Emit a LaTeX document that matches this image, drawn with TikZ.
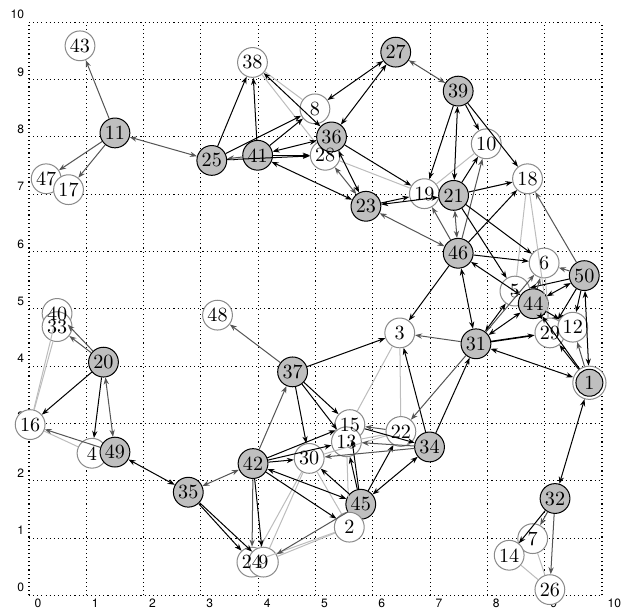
\documentclass[tikz,border=0pt]{standalone}
\usepackage{fontspec}
\usepackage{tikz}
\usetikzlibrary{arrows.meta}
\newfontfamily\axisfont{TeX Gyre Heros}
\definecolor{NodeGrey}{HTML}{BFBFBF}
\definecolor{RingGrey}{HTML}{8A8A8A}
\definecolor{EdgeGrey}{HTML}{555555}
\definecolor{FaintGrey}{HTML}{BDBDBD}
\tikzset{
    % Node styles - all circles, numbers set afterwards
    agent/.style={
        circle,
        draw=black,
        fill=NodeGrey,
        line width=0.5pt,
        minimum size=0.52cm,
        inner sep=0pt
    },
    target/.style={
        circle,
        draw=RingGrey,
        fill=white,
        line width=0.5pt,
        minimum size=0.52cm,
        inner sep=0pt
    },
    goalring/.style={
        circle,
        draw=RingGrey,
        fill=white,
        line width=0.5pt,
        minimum size=0.58cm,
        inner sep=0pt
    },
    number/.style={
        inner sep=0pt
    },
    axislabel/.style={
        inner sep=0pt,
        font=\axisfont\fontsize{6}{7}\selectfont
    },
    % Arrow styles - straight lines only
    arrow/.style={
        -{Stealth[length=3.5pt,width=2.6pt]},
        line width=0.5pt,
        draw=black
    },
    twoarrow/.style={
        {Stealth[length=3.5pt,width=2.6pt]}-{Stealth[length=3.5pt,width=2.6pt]},
        line width=0.5pt,
        draw=black
    },
    greyarrow/.style={
        -{Stealth[length=3.5pt,width=2.6pt]},
        line width=0.5pt,
        draw=EdgeGrey
    },
    greytwoarrow/.style={
        {Stealth[length=3.5pt,width=2.6pt]}-{Stealth[length=3.5pt,width=2.6pt]},
        line width=0.5pt,
        draw=EdgeGrey
    },
    faintlink/.style={
        line width=0.5pt,
        draw=FaintGrey
    }
}
\begin{document}
\begin{tikzpicture}
    \useasboundingbox (-0.506,-0.21) rectangle (10.663,10.39);
    \draw[line width=0.55pt, dash pattern=on 0.55pt off 1.5pt] (0,0) grid (10,10);
    \foreach \k in {0,...,10} {
        \node[axislabel, anchor=north west] (xl\k) at (\k+0.09,-0.05) {\k};
        \node[axislabel, anchor=south east] (yl\k) at (-0.08,\k+0.05) {\k};
    }

    \node[target] (n43) at (0.89,9.59) {};
    \node[agent] (n11) at (1.50,8.07) {};
    \node[target] (n47) at (0.30,7.27) {};
    \node[target] (n17) at (0.69,7.08) {};
    \node[target] (n38) at (3.90,9.30) {};
    \node[agent] (n25) at (3.19,7.59) {};
    \node[agent] (n41) at (3.99,7.68) {};
    \node[target] (n8) at (4.99,8.49) {};
    \node[target] (n28) at (5.17,7.68) {};
    \node[agent] (n36) at (5.28,8.00) {};
    \node[agent] (n27) at (6.40,9.48) {};
    \node[agent] (n23) at (5.88,6.79) {};
    \node[agent] (n39) at (7.49,8.80) {};
    \node[target] (n10) at (7.98,7.88) {};
    \node[target] (n18) at (8.70,7.27) {};
    \node[target] (n19) at (6.90,7.01) {};
    \node[agent] (n21) at (7.41,6.98) {};
    \node[agent] (n46) at (7.49,5.97) {};
    \node[target] (n6) at (8.99,5.80) {};
    \node[agent] (n50) at (9.69,5.58) {};
    \node[target] (n5) at (8.48,5.31) {};
    \node[agent] (n44) at (8.80,5.09) {};
    \node[target] (n29) at (9.09,4.58) {};
    \node[target] (n12) at (9.49,4.68) {};
    \node[agent] (n31) at (7.80,4.39) {};
    \node[goalring] (n1) at (9.78,3.71) {};
    \node[agent, minimum size=0.47cm] (n1c) at (n1) {};
    \node[target] (n3) at (6.47,4.58) {};
    \node[target] (n48) at (3.29,4.89) {};
    \node[agent] (n37) at (4.60,3.90) {};
    \node[target] (n40) at (0.49,4.92) {};
    \node[target] (n33) at (0.49,4.69) {};
    \node[agent] (n20) at (1.30,4.07) {};
    \node[target] (n16) at (0.02,2.98) {};
    \node[target] (n4) at (1.10,2.48) {};
    \node[agent] (n49) at (1.50,2.50) {};
    \node[agent] (n35) at (2.78,1.80) {};
    \node[agent] (n42) at (3.91,2.30) {};
    \node[target] (n30) at (4.89,2.39) {};
    \node[target] (n15) at (5.60,2.98) {};
    \node[target] (n13) at (5.54,2.68) {};
    \node[target] (n22) at (6.49,2.86) {};
    \node[agent] (n34) at (6.99,2.59) {};
    \node[agent] (n45) at (5.79,1.59) {};
    \node[target] (n2) at (5.59,1.19) {};
    \node[target] (n24) at (3.89,0.58) {};
    \node[target] (n9) at (4.09,0.58) {};
    \node[agent] (n32) at (9.18,1.69) {};
    \node[target] (n7) at (8.79,0.99) {};
    \node[target] (n14) at (8.38,0.70) {};
    \node[target] (n26) at (9.09,0.10) {};

    % numbers go on top of all circles
    \foreach \k in {1,...,50}
        \node[number] (t\k) at (n\k) {\k};

    % light links
    \draw[faintlink] (n38) -- (n8);
    \draw[faintlink] (n38) -- (n28);
    \draw[faintlink] (n28) -- (n19);
    \draw[faintlink] (n19) -- (n10);
    \draw[faintlink] (n21) -- (n18);
    \draw[faintlink] (n18) -- (n5);
    \draw[faintlink] (n18) -- (n29);
    \draw[faintlink] (n6) -- (n29);
    \draw[faintlink] (n3) -- (n15);
    \draw[faintlink] (n3) -- (n22);
    \draw[faintlink] (n16) -- (n40);
    \draw[faintlink] (n16) -- (n33);
    \draw[faintlink] (n4) -- (n16);
    \draw[faintlink] (n2) -- (n24);
    \draw[faintlink] (n2) -- (n9);
    \draw[faintlink] (n30) -- (n24);
    \draw[faintlink] (n30) -- (n9);
    \draw[faintlink] (n30) -- (n2);
    \draw[faintlink] (n30) -- (n22);
    \draw[faintlink] (n13) -- (n2);
    \draw[faintlink] (n22) -- (n13);
    \draw[faintlink] (n7) -- (n26);
    \draw[faintlink] (n14) -- (n26);

    % upper left
    \draw[greyarrow] (n11) -- (n43);
    \draw[greyarrow] (n11) -- (n47);
    \draw[greyarrow] (n11) -- (n17);
    \draw[greytwoarrow] (n11) -- (n25);
    \draw[arrow] (n25) -- (n38);
    \draw[arrow] (n41) -- (n38);
    \draw[arrow] (n25) -- (n8);
    \draw[arrow] (n41) -- (n8);
    \draw[arrow] (n25) -- (n28);
    \draw[arrow] (n41) -- (n28);
    \draw[greyarrow] (n41) -- (n25);
    \draw[twoarrow] (n41) -- (n36);
    \draw[twoarrow] (n41) -- (n23);
    \draw[twoarrow] (n27) -- (n8);
    \draw[twoarrow] (n27) -- (n36);
    \draw[greytwoarrow] (n27) -- (n39);
    \draw[twoarrow] (n36) -- (n38);
    \draw[twoarrow] (n36) -- (n23);
    \draw[greytwoarrow] (n28) -- (n23);
    \draw[arrow] (n36) -- (n19);
    \draw[twoarrow] (n23) -- (n21);
    \draw[arrow] (n23) -- (n19);
    \draw[greytwoarrow] (n23) -- (n46);

    % upper right
    \draw[arrow] (n39) -- (n19);
    \draw[arrow] (n39) -- (n10);
    \draw[arrow] (n39) -- (n18);
    \draw[twoarrow] (n39) -- (n21);
    \draw[arrow] (n21) -- (n10);
    \draw[arrow] (n21) -- (n18);
    \draw[greyarrow] (n46) -- (n19);
    \draw[greytwoarrow] (n46) -- (n21);
    \draw[greyarrow] (n46) -- (n10);
    \draw[arrow] (n46) -- (n18);
    \draw[arrow] (n21) -- (n5);
    \draw[arrow] (n21) -- (n6);
    \draw[arrow] (n46) -- (n6);
    \draw[twoarrow] (n46) -- (n44);
    \draw[twoarrow] (n46) -- (n31);
    \draw[arrow] (n46) -- (n3);
    \draw[greyarrow] (n50) -- (n18);
    \draw[greyarrow] (n50) -- (n6);
    \draw[twoarrow] (n50) -- (n44);
    \draw[arrow] (n50) -- (n5);
    \draw[arrow] (n50) -- (n29);
    \draw[arrow] (n50) -- (n12);
    \draw[twoarrow] (n50) -- (n1);
    \draw[greyarrow] (n1) -- (n12);
    \draw[arrow] (n1) -- (n44);
    \draw[arrow] (n1) -- (n29);
    \draw[twoarrow] (n1) -- (n31);
    \draw[arrow, line width=0.8pt] (n31) -- (n29);
    \draw[twoarrow] (n31) -- (n44);
    \draw[twoarrow] (n31) -- (n5);
    \draw[greyarrow] (n31) -- (n6);
    \draw[greyarrow] (n31) -- (n3);
    \draw[arrow] (n44) -- (n29);
    \draw[arrow] (n44) -- (n12);
    \draw[greyarrow] (n44) -- (n6);
    \draw[arrow] (n34) -- (n3);
    \draw[arrow] (n34) -- (n31);
    \draw[greyarrow] (n31) -- (n22);
    \draw[twoarrow] (n32) -- (n1);
    \draw[greyarrow] (n32) -- (n7);
    \draw[greyarrow] (n32) -- (n26);
    \draw[arrow] (n32) -- (n14);

    % lower left
    \draw[greyarrow] (n20) -- (n40);
    \draw[greyarrow] (n20) -- (n33);
    \draw[arrow] (n20) -- (n16);
    \draw[arrow] (n20) -- (n4);
    \draw[greytwoarrow] (n20) -- (n49);
    \draw[greyarrow] (n49) -- (n16);
    \draw[twoarrow] (n49) -- (n35);
    \draw[arrow] (n35) -- (n24);
    \draw[arrow] (n35) -- (n9);
    \draw[greytwoarrow] (n35) -- (n42);

    % lower middle
    \draw[greyarrow] (n42) -- (n37);
    \draw[greyarrow] (n37) -- (n48);
    \draw[arrow] (n37) -- (n3);
    \draw[arrow] (n37) -- (n30);
    \draw[arrow] (n37) -- (n15);
    \draw[arrow] (n37) -- (n13);
    \draw[arrow] (n42) -- (n30);
    \draw[arrow] (n42) -- (n13);
    \draw[arrow] (n42) -- (n15);
    \draw[arrow] (n42) -- (n2);
    \draw[arrow] (n42) -- (n9);
    \draw[greyarrow] (n42) -- (n24);
    \draw[twoarrow] (n42) -- (n45);
    \draw[arrow] (n45) -- (n30);
    \draw[arrow] (n45) -- (n13);
    \draw[arrow] (n45) -- (n15);
    \draw[arrow] (n45) -- (n22);
    \draw[twoarrow] (n45) -- (n34);
    \draw[greyarrow] (n45) -- (n9);
    \draw[greyarrow] (n34) -- (n30);
    \draw[greyarrow] (n34) -- (n13);
    \draw[greyarrow] (n22) -- (n15);
    \draw[arrow] (n15) -- (n34);
\end{tikzpicture}
\end{document}
